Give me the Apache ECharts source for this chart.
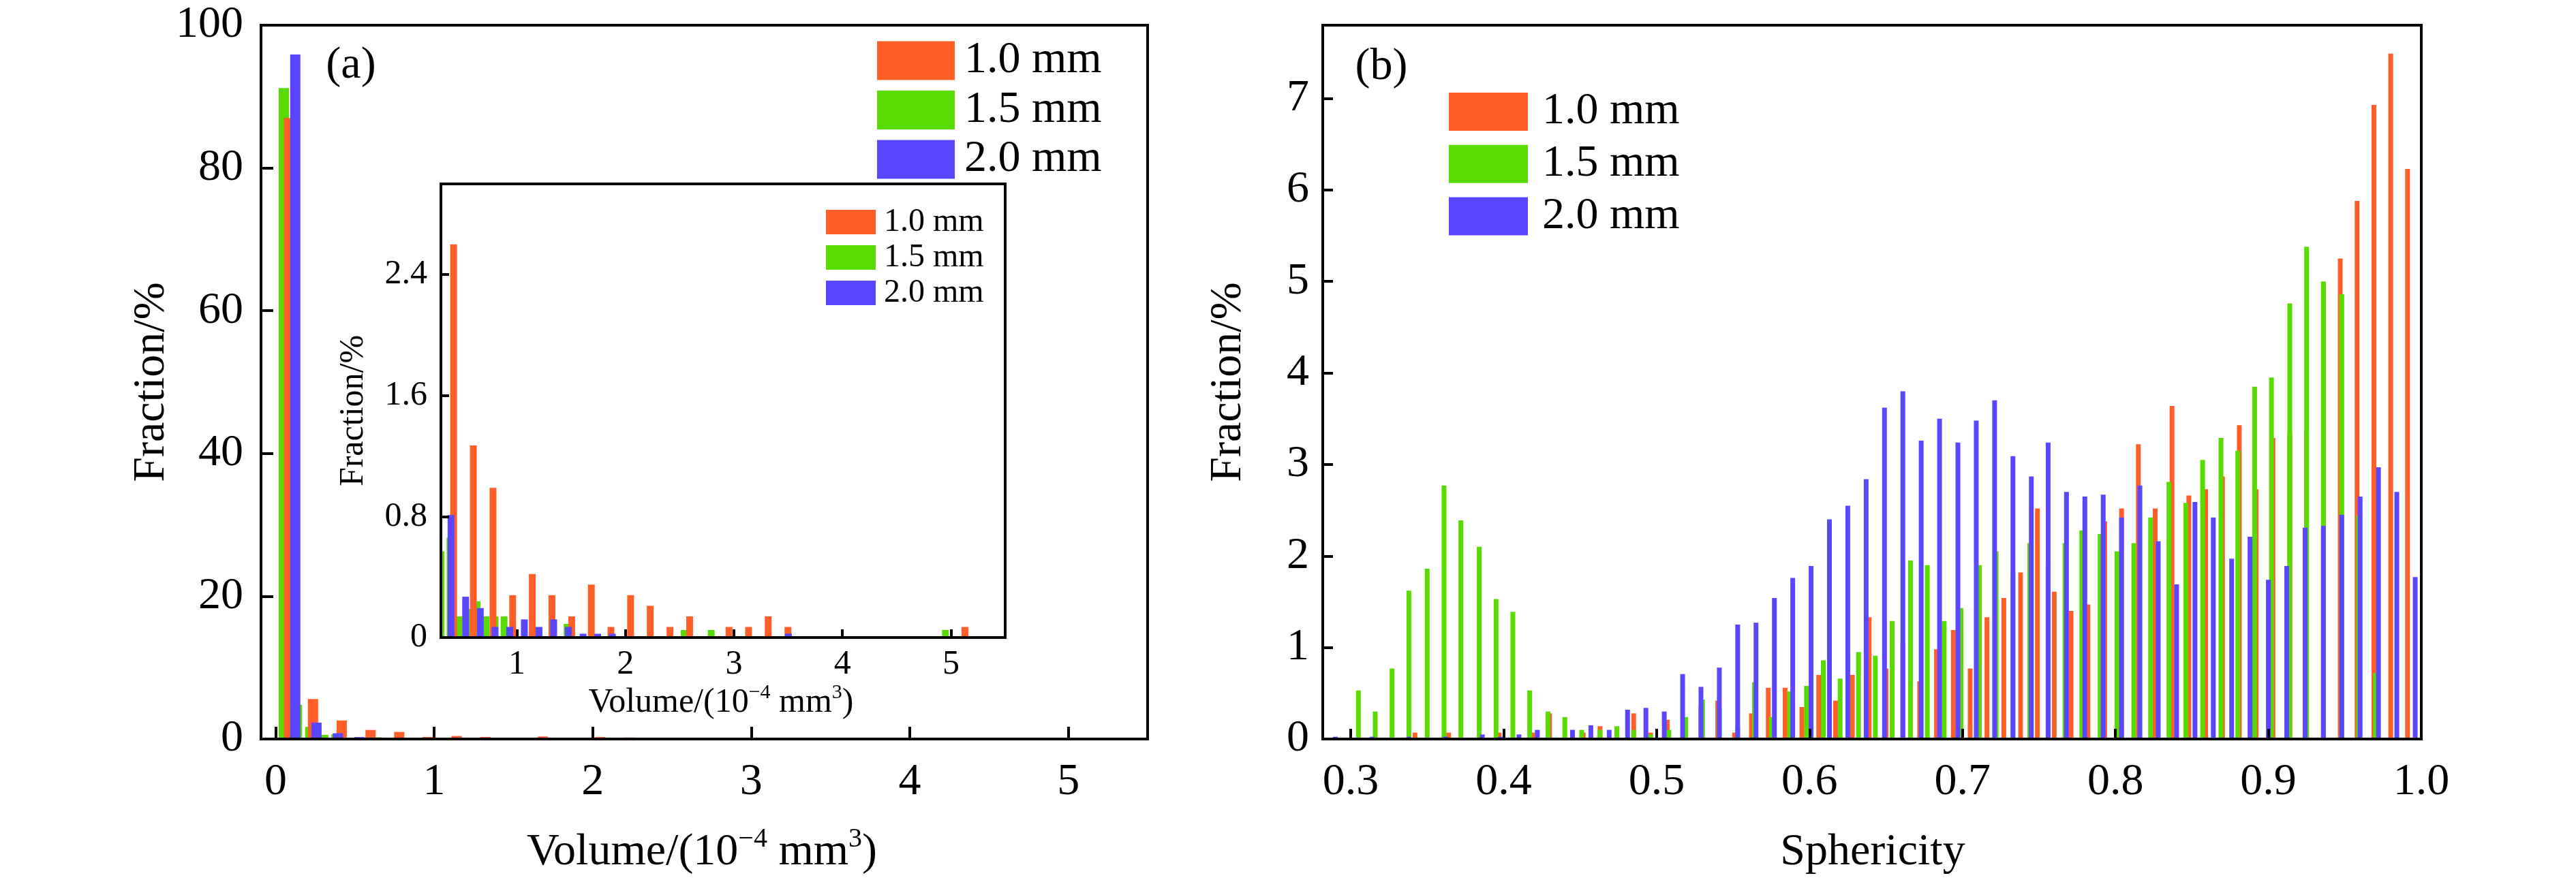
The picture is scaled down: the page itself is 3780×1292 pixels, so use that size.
<!DOCTYPE html>
<html><head><meta charset="utf-8">
<script src="https://cdn.jsdelivr.net/npm/echarts@6/dist/echarts.min.js"></script>
<style>html,body{margin:0;padding:0;background:#fff}#c{width:3780px;height:1292px}</style>
</head><body><div id="c"></div>
<script>
// ---------- names / colours ----------
const seriesNames = ['1.0 mm', '1.5 mm', '2.0 mm'];
const seriesColors = ['#FF5E28', '#58DC00', '#5A46FF'];

// ---------- panel (a): volume histogram (x in 10^-4 mm^3, y in %) ----------
const volOrangeX = [0.085, 0.236, 0.417, 0.599, 0.780, 0.961, 1.142, 1.323, 1.505, 1.686, 1.867, 2.048, 2.229, 2.411, 2.592, 2.955, 3.135, 3.316, 3.498, 5.129];
const volOrange  = [87.0, 5.6, 2.60, 1.27, 0.99, 0.28, 0.42, 0.28, 0.14, 0.35, 0.07, 0.28, 0.21, 0.07, 0.14, 0.07, 0.07, 0.14, 0.07, 0.07];
const volGreenX  = [0.052, 0.135, 0.218, 0.301, 0.384, 0.467, 0.550, 0.633, 0.716, 0.799, 0.882, 0.965, 1.463, 2.542, 2.791, 4.949];
const volGreen   = [91.2, 4.8, 1.70, 0.57, 0.66, 0.14, 0.19, 0.24, 0.14, 0.14, 0.14, 0.05, 0.09, 0.05, 0.05, 0.05];
const volBlueX   = [0.124, 0.258, 0.393, 0.528, 0.663, 0.798, 0.934, 1.069, 1.204, 1.339, 1.474, 1.610, 1.745, 1.880, 3.502];
const volBlue    = [95.9, 2.30, 0.81, 0.27, 0.195, 0.07, 0.07, 0.12, 0.07, 0.12, 0.07, 0.025, 0.025, 0.025, 0.025];

const volXTickLabels   = [0, 1, 2, 3, 4, 5];
const volYTickLabels   = [0, 20, 40, 60, 80, 100];
const insetXTickLabels = [1, 2, 3, 4, 5];
const insetYTickLabels = [0, 0.8, 1.6, 2.4];

// ---------- panel (b): sphericity histogram ----------
const sphOrangeX = [0.342, 0.364, 0.397, 0.419, 0.430, 0.452, 0.463, 0.474, 0.485, 0.496, 0.507, 0.529, 0.540, 0.551, 0.562, 0.573, 0.584, 0.595, 0.606, 0.617, 0.628, 0.639, 0.650, 0.661, 0.672, 0.683, 0.694, 0.705, 0.716, 0.727, 0.738, 0.749, 0.760, 0.771, 0.782, 0.793, 0.804, 0.815, 0.826, 0.837, 0.848, 0.859, 0.870, 0.881, 0.892, 0.903, 0.914, 0.925, 0.936, 0.947, 0.958, 0.969, 0.980, 0.991];
const sphOrange  = [0.07, 0.07, 0.07, 0.07, 0.28, 0.07, 0.14, 0.07, 0.28, 0.07, 0.21, 0.35, 0.42, 0.07, 0.28, 0.56, 0.56, 0.35, 0.70, 0.42, 0.70, 1.33, 0.77, 1.05, 0.63, 0.98, 1.19, 0.77, 1.33, 1.54, 1.82, 2.52, 1.61, 1.40, 1.47, 2.38, 2.52, 3.22, 2.52, 3.64, 2.66, 2.73, 2.87, 3.43, 2.73, 3.29, 3.36, 3.36, 4.97, 5.25, 5.88, 6.93, 7.49, 6.23];
const sphGreenX  = [0.305, 0.316, 0.327, 0.338, 0.350, 0.361, 0.372, 0.384, 0.395, 0.406, 0.417, 0.429, 0.440, 0.451, 0.463, 0.474, 0.485, 0.496, 0.508, 0.519, 0.530, 0.541, 0.553, 0.564, 0.575, 0.587, 0.598, 0.609, 0.620, 0.632, 0.643, 0.654, 0.666, 0.677, 0.688, 0.699, 0.711, 0.722, 0.733, 0.744, 0.756, 0.767, 0.778, 0.790, 0.801, 0.812, 0.823, 0.835, 0.846, 0.857, 0.869, 0.880, 0.891, 0.902, 0.914, 0.925, 0.936, 0.948, 0.959, 0.970];
const sphGreen   = [0.53, 0.30, 0.77, 1.62, 1.86, 2.77, 2.39, 2.10, 1.53, 1.39, 0.53, 0.30, 0.24, 0.10, 0.10, 0.14, 0.10, 0.05, 0.10, 0.24, 0.43, 0.34, 0.14, 0.62, 0.24, 0.52, 0.58, 0.86, 0.66, 0.95, 0.91, 1.29, 1.95, 1.90, 1.29, 1.43, 1.90, 2.05, 1.82, 2.14, 1.90, 2.14, 2.28, 2.24, 2.05, 2.14, 2.42, 2.81, 2.58, 3.05, 3.29, 3.15, 3.85, 3.95, 4.76, 5.38, 5.00, 4.86, 2.44, 0.72];
const sphBlueX   = [0.290, 0.302, 0.314, 0.326, 0.338, 0.350, 0.362, 0.374, 0.386, 0.398, 0.410, 0.422, 0.434, 0.445, 0.457, 0.469, 0.481, 0.493, 0.505, 0.517, 0.529, 0.541, 0.553, 0.565, 0.577, 0.589, 0.601, 0.613, 0.625, 0.637, 0.649, 0.661, 0.673, 0.685, 0.697, 0.709, 0.721, 0.733, 0.745, 0.756, 0.768, 0.780, 0.792, 0.804, 0.816, 0.828, 0.840, 0.852, 0.864, 0.876, 0.888, 0.900, 0.912, 0.924, 0.936, 0.948, 0.960, 0.972, 0.984, 0.996];
const sphBlue    = [0.025, 0, 0.025, 0, 0.025, 0, 0.025, 0, 0.05, 0.025, 0.05, 0.10, 0, 0.10, 0.15, 0.10, 0.32, 0.34, 0.30, 0.71, 0.57, 0.78, 1.25, 1.27, 1.54, 1.76, 1.89, 2.40, 2.55, 2.84, 3.62, 3.80, 3.26, 3.50, 3.24, 3.48, 3.70, 3.09, 2.87, 3.24, 2.70, 2.65, 2.67, 2.42, 2.77, 2.16, 1.69, 2.59, 2.42, 1.97, 2.21, 1.74, 1.89, 2.31, 2.33, 2.45, 2.65, 2.97, 2.70, 1.77];

const sphXTickLabels = [0.3, 0.4, 0.5, 0.6, 0.7, 0.8, 0.9, 1.0];
const sphYTickLabels = [0, 1, 2, 3, 4, 5, 6, 7];

// ---------- helpers ----------
const F = '"Liberation Serif", "Times New Roman", serif';
const pairs = (xs, ys) => xs.map((x, i) => [x, ys[i]]);
const fmt = (list, digits) => v => {
  for (const t of list) if (Math.abs(v - t) < 1e-6) return digits ? t.toFixed(digits) : String(t);
  return '';
};
function axisStyle(fontSize, margin, tickLen, list, digits, z) {
  return {
    axisLine: { show: true, onZero: false, lineStyle: { color: '#000', width: 4 } },
    axisTick: { show: true, inside: true, length: tickLen, lineStyle: { color: '#000', width: 4 } },
    axisLabel: { show: true, fontSize, fontFamily: F, color: '#000', margin, formatter: fmt(list, digits) },
    splitLine: { show: false },
    z
  };
}
function bar(name, color, xs, ys, xi, width, z) {
  return {
    type: 'bar', name, xAxisIndex: xi, yAxisIndex: xi,
    data: pairs(xs, ys), barWidth: width, barGap: '-100%', clip: true, z,
    itemStyle: { color, borderWidth: 0 }, emphasis: { disabled: true }, silent: true
  };
}
function txt(x, y, text, size, rot, rich) {
  return {
    type: 'text', x, y, rotation: rot || 0, z: 30, silent: true,
    style: Object.assign({
      legacy: false, text, align: 'center', verticalAlign: 'middle',
      fontSize: size, fontFamily: F, fill: '#000'
    }, rich ? { rich } : {})
  };
}
function supRich(size, supSize, lh) {
  return {
    n: { fontSize: size, fontFamily: F, fill: '#000', lineHeight: lh },
    s: { fontSize: supSize, fontFamily: F, fill: '#000', lineHeight: supSize, verticalAlign: 'top' }
  };
}
function legend(left, top, w, h, gap, size, pad) {
  return {
    data: seriesNames, left, top, orient: 'vertical', itemWidth: w, itemHeight: h, itemGap: gap,
    padding: 0, icon: 'rect', selectedMode: false, z: 20,
    textStyle: { fontSize: size, fontFamily: F, color: '#000', lineHeight: h, padding: [0, 0, 0, pad] }
  };
}

const chart = echarts.init(document.getElementById('c'), null, { renderer: 'canvas' });
chart.setOption({
  animation: false,
  backgroundColor: '#fff',
  grid: [
    { left: 383, top: 37, width: 1301, height: 1048, show: true, borderColor: '#000', borderWidth: 4, backgroundColor: 'transparent', z: 5, containLabel: false, outerBoundsMode: 'none' },
    { left: 647, top: 270, width: 828, height: 666, show: true, borderColor: '#000', borderWidth: 4, backgroundColor: '#fff', z: 10, containLabel: false, outerBoundsMode: 'none' },
    { left: 1941, top: 37, width: 1612, height: 1048, show: true, borderColor: '#000', borderWidth: 4, backgroundColor: 'transparent', z: 5, containLabel: false, outerBoundsMode: 'none' }
  ],
  xAxis: [
    Object.assign({ type: 'value', gridIndex: 0, min: -0.092, max: 5.5, minInterval: 1, maxInterval: 1 }, axisStyle(66, 31, 18, volXTickLabels, 0, 6)),
    Object.assign({ type: 'value', gridIndex: 1, min: 0.3, max: 5.5, minInterval: 1, maxInterval: 1 }, axisStyle(50, 15, 12, insetXTickLabels, 0, 16)),
    Object.assign({ type: 'value', gridIndex: 2, min: 0.2817, max: 1.0, minInterval: 0.1, maxInterval: 0.1 }, axisStyle(66, 31, 15, sphXTickLabels, 1, 6))
  ],
  yAxis: [
    Object.assign({ type: 'value', gridIndex: 0, min: 0, max: 100, interval: 20 }, axisStyle(66, 26, 18, volYTickLabels, 0, 6)),
    Object.assign({ type: 'value', gridIndex: 1, min: 0, max: 3.0, interval: 0.8 }, axisStyle(50, 20, 12, insetYTickLabels, 0, 16)),
    Object.assign({ type: 'value', gridIndex: 2, min: 0, max: 7.8, interval: 1 }, axisStyle(66, 20, 15, sphYTickLabels, 0, 6))
  ],
  legend: [
    legend(1287, 56, 114, 57, 6.5, 66, 9),
    legend(1212, 302, 73, 36, 4, 48, 7),
    legend(2126, 131, 116, 56, 10.7, 66, 16)
  ],
  series: [
    // panel (a) main: 1.5 mm under 1.0 mm under 2.0 mm
    bar(seriesNames[0], seriesColors[0], volOrangeX, volOrange, 0, 15, 3),
    bar(seriesNames[1], seriesColors[1], volGreenX, volGreen, 0, 15, 2),
    bar(seriesNames[2], seriesColors[2], volBlueX, volBlue, 0, 15, 4),
    // panel (a) inset
    bar(seriesNames[0], seriesColors[0], volOrangeX, volOrange, 1, 10, 13),
    bar(seriesNames[1], seriesColors[1], volGreenX, volGreen, 1, 10, 12),
    bar(seriesNames[2], seriesColors[2], volBlueX, volBlue, 1, 10, 14),
    // panel (b): 1.0 mm under 1.5 mm under 2.0 mm
    bar(seriesNames[0], seriesColors[0], sphOrangeX, sphOrange, 2, 7, 2),
    bar(seriesNames[1], seriesColors[1], sphGreenX, sphGreen, 2, 7, 3),
    bar(seriesNames[2], seriesColors[2], sphBlueX, sphBlue, 2, 7, 4)
  ],
  graphic: [
    txt(515, 97, '(a)', 66),
    txt(2027, 99, '(b)', 66),
    txt(223, 561, 'Fraction/%', 66, Math.PI / 2),
    txt(1030, 1252, '{n|Volume/(10}{s|\u22124}{n| mm}{s|3}{n|)}', 66, 0, supRich(66, 40, 80)),
    txt(519, 603, 'Fraction/%', 50, Math.PI / 2),
    txt(1058, 1032, '{n|Volume/(10}{s|\u22124}{n| mm}{s|3}{n|)}', 50, 0, supRich(50, 30, 60)),
    txt(1803, 561, 'Fraction/%', 66, Math.PI / 2),
    txt(2748, 1252, 'Sphericity', 66)
  ]
});
</script>
</body></html>
